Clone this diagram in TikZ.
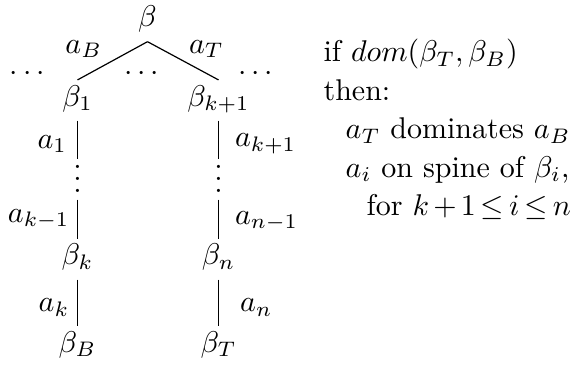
\documentclass[tikz,border=0pt]{standalone}
\usepackage{amsmath}
\usepackage{tikz}
\usetikzlibrary{positioning}

\begin{document}
\begin{tikzpicture}[
    spine/.style={inner sep=0pt, anchor=base, text height=8.5pt, text depth=4.7pt},
    vgap/.style={inner sep=0pt, anchor=base, text height=10.9pt, text depth=2.2pt},
    etc/.style={inner sep=0pt, anchor=base},
    cond/.style={inner sep=0pt, anchor=base west}
]
    \useasboundingbox (0,0) rectangle (6.689,4.276);

    % Root
    \node[spine] (root) at (1.728,3.960) {$\beta$};

    % Siblings
    \node[etc] (dl) at (0.351,3.333) {$\cdots$};
    \node[etc] (dm) at (1.687,3.333) {$\cdots$};
    \node[etc] (dr) at (3.023,3.333) {$\cdots$};

    % Left spine
    \node[spine] (b1) at (0.908,3.034) {$\beta_1$};
    \node[vgap] (v1) at (0.908,2.021) {$\vdots$};
    \node[spine] (bk) at (0.908,1.172) {$\beta_k$};
    \node[spine] (bB) at (0.908,0.152) {$\beta_B$};

    % Right spine
    \node[spine] (bk1) at (2.560,3.034) {$\beta_{k+1}$};
    \node[vgap] (v2) at (2.560,2.021) {$\vdots$};
    \node[spine] (bn) at (2.560,1.172) {$\beta_n$};
    \node[spine] (bT) at (2.560,0.152) {$\beta_T$};

    % Condition
    \node[cond] (c1) at (3.784,3.550) {if $dom(\beta_T,\beta_B)$};
    \node[cond] (c2) at (3.784,3.099) {then:};
    \node[cond] (c3) at (4.042,2.648) {$a_T$ dominates $a_B$};
    \node[cond] (c4) at (4.042,2.197) {$a_i$ on spine of $\beta_i$,};
    \node[cond] (c5) at (4.288,1.746) {for $\medmuskip=2.5mu \thickmuskip=3mu k+1 \le i \le n$};

    % Edges
    \draw (root.south) -- node[midway, above left=-2.5pt and 0pt] {$a_B$} (b1.north);
    \draw (root.south) -- node[midway, above right=-2.5pt and -1.5pt] {$a_T$} (bk1.north);
    \draw (b1.south) -- node[left, pos=.6] {$a_1$} (v1.north);
    \draw (v1.south) -- node[left=-0.8pt, midway] {$a_{k-1}$} (bk.north);
    \draw (bk.south) -- node[left=-0.8pt, pos=.6] {$a_k$} (bB.north);
    \draw (bk1.south) -- node[right=2pt, pos=.6] {$a_{k+1}$} (v2.north);
    \draw (v2.south) -- node[right=2pt, pos=.55] {$a_{n-1}$} (bn.north);
    \draw (bn.south) -- node[right=3.7pt, pos=.6] {$a_n$} (bT.north);
\end{tikzpicture}
\end{document}
